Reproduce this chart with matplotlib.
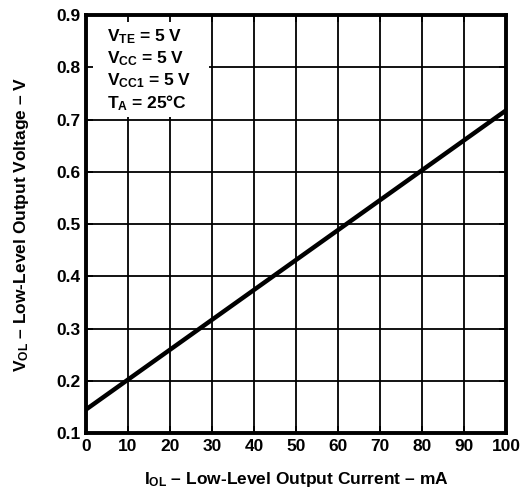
import matplotlib
matplotlib.use("Agg")
import matplotlib.pyplot as plt
from matplotlib.patches import Rectangle

plt.rcParams['font.family'] = 'Liberation Sans'
plt.rcParams['font.weight'] = 'bold'
plt.rcParams['axes.labelweight'] = 'bold'
plt.rcParams['mathtext.fontset'] = 'custom'
plt.rcParams['mathtext.rm'] = 'Liberation Sans:bold'
plt.rcParams['mathtext.it'] = 'Liberation Sans:bold'
plt.rcParams['mathtext.bf'] = 'Liberation Sans:bold'

# data
i_ol = [0, 100]
v_ol = [0.145, 0.718]
x_ticks = [0, 10, 20, 30, 40, 50, 60, 70, 80, 90, 100]
y_ticks = [0.1, 0.2, 0.3, 0.4, 0.5, 0.6, 0.7, 0.8, 0.9]
conditions = [r'$V_{TE}$ = 5 V', r'$V_{CC}$ = 5 V', r'$V_{CC1}$ = 5 V', r'$T_A$ = 25°C']

fig = plt.figure(figsize=(5.24, 4.91), dpi=100)
ax = fig.add_axes([0.164, 0.118, 0.802, 0.851])

for x in x_ticks:
    ax.axvline(x, color='k', lw=1.3, zorder=1)
for y in y_ticks:
    ax.axhline(y, color='k', lw=1.3, zorder=1)

# white box behind the condition text hides the grid there
ax.add_patch(Rectangle((0, 0.706), 29.4, 0.2, facecolor='white', edgecolor='none', zorder=1.5))

ax.plot(i_ol, v_ol, color='k', lw=3.2, zorder=3, solid_capstyle='butt')

ax.set_xlim(0, 100)
ax.set_ylim(0.1, 0.9)
ax.set_xticks(x_ticks)
ax.set_yticks(y_ticks)
ax.set_xticklabels([str(x) for x in x_ticks])
ax.set_yticklabels([f'{y:.1f}' for y in y_ticks])
ax.tick_params(direction='in', length=5, width=1.3, top=True, right=True,
               labelsize=12.5, pad=4)
for s in ax.spines.values():
    s.set_linewidth(2.8)
    s.set_zorder(4)

ax.set_xlabel(r'$I_{OL}$ – Low-Level Output Current – mA', fontsize=12.5,
              fontweight='bold', labelpad=12)
ax.set_ylabel(r'$V_{OL}$ – Low-Level Output Voltage – V', fontsize=12.5,
              fontweight='bold', labelpad=18)

for k, t in enumerate(conditions):
    ax.text(0.05, 0.97 - k * 0.052, t, transform=ax.transAxes, fontsize=12.5,
            va='top', ha='left', zorder=5)

fig.savefig('out.png', dpi=100)
